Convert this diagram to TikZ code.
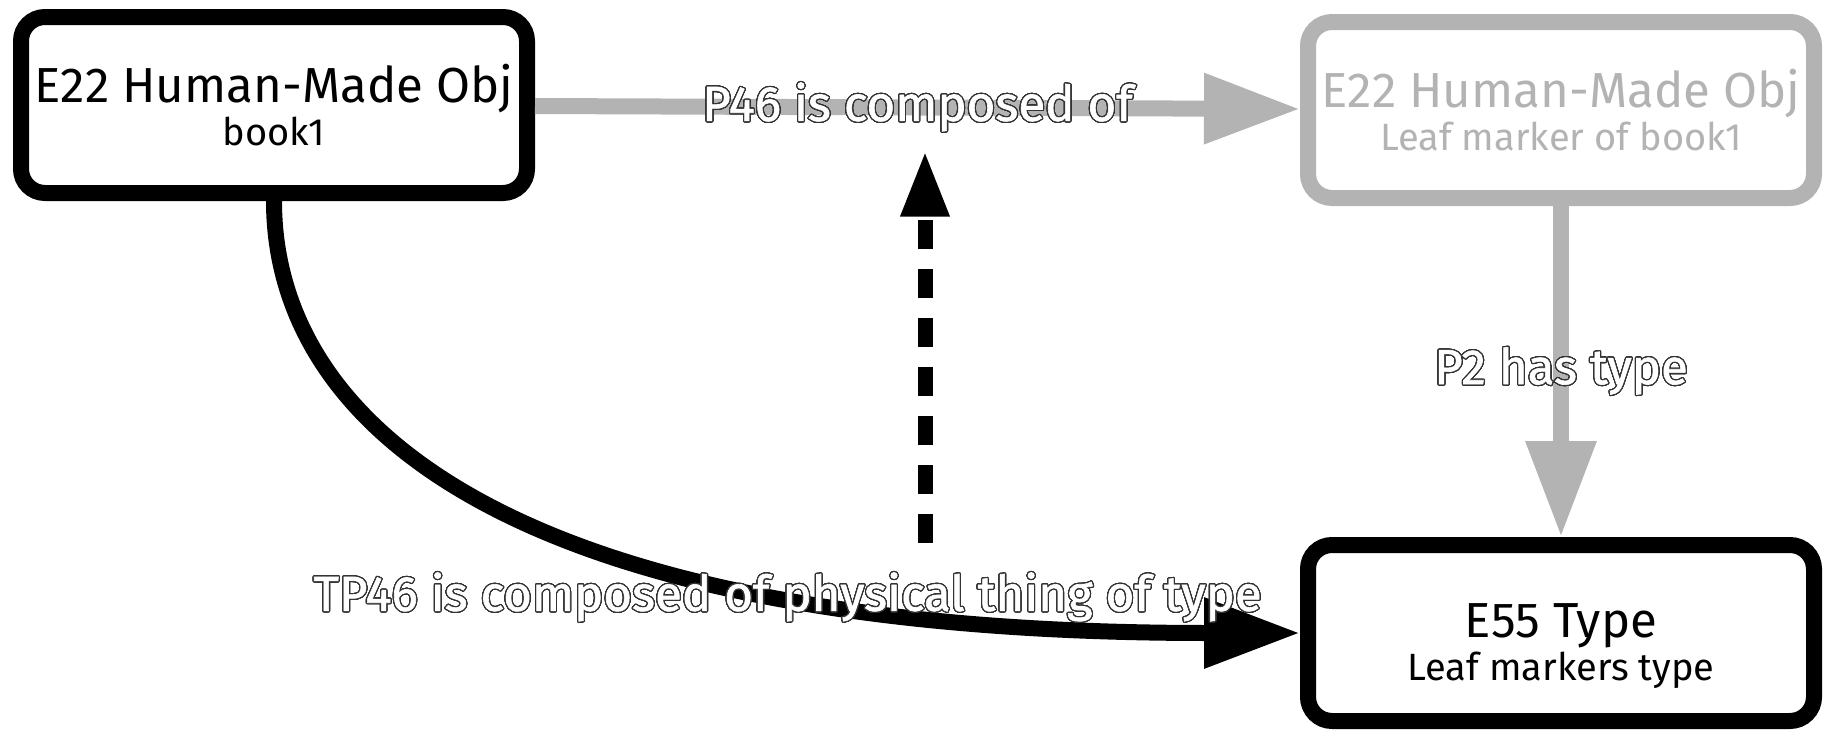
\documentclass[tikz,border=0pt]{standalone}
\usepackage{fontspec}
\setmainfont{Fira Sans}
\newfontfamily\labelfont{Fira Sans}[FakeBold=1.3]
\usepackage{contour}
\usetikzlibrary{arrows.meta}

\definecolor{relgrey}{RGB}{179,179,179}
\contourlength{0.6pt}
\contournumber{40}
\newcommand{\outlined}[1]{\contour{black!80}{#1}}
\newcommand{\bigline}{\fontsize{24.6pt}{24.6pt}\selectfont}

\begin{document}
\begin{tikzpicture}[x=0.5pt, y=-0.5pt,
  entity/.style={draw, line width=8pt, rounded corners=12pt, fill=white,
    minimum width=253pt, minimum height=88pt, align=center,
    font=\fontsize{19pt}{21.5pt}\selectfont},
  relation/.style={line width=8pt, -{Triangle[length=48pt, width=33.5pt]}},
  rellabel/.style={text=white, inner sep=1pt, font=\labelfont\fontsize{24.6pt}{26pt}\selectfont}]
\useasboundingbox (0,0) rectangle (1833,739);
% entities
\node [entity] (book) at (274,105) {{\bigline E22 Human-Made Obj}\\book1};
\node [entity, draw=relgrey, text=relgrey] (leaf) at (1561,110) {{\bigline E22 Human-Made Obj}\\Leaf marker of book1};
\node [entity] (type) at (1561,633) {{\bigline\rule{0pt}{30pt}E55 Type}\\Leaf markers type};
% relations
\draw [relation, relgrey] (book) -- node [rellabel] (p46) {\outlined{P46 is composed of}} (leaf);
\draw [relation, relgrey] (leaf) -- node [rellabel] (p2) {\outlined{P2 has type}} (type);
\draw [relation] (book.south) .. controls +(0,219) and +(-797,0) .. node [rellabel, pos=0.74, yshift=-2pt] (tp46) {\outlined{TP46 is composed of physical thing of type}} (type.west);
% the shortcut points at P46
\coordinate (dashtail) at (925,543);
\draw [line width=7.5pt, dash pattern=on 14.5pt off 10pt, -{Triangle[length=33pt, width=22.5pt]}, shorten >=4pt] (dashtail) -- (dashtail |- p46.south);
\end{tikzpicture}
\end{document}
